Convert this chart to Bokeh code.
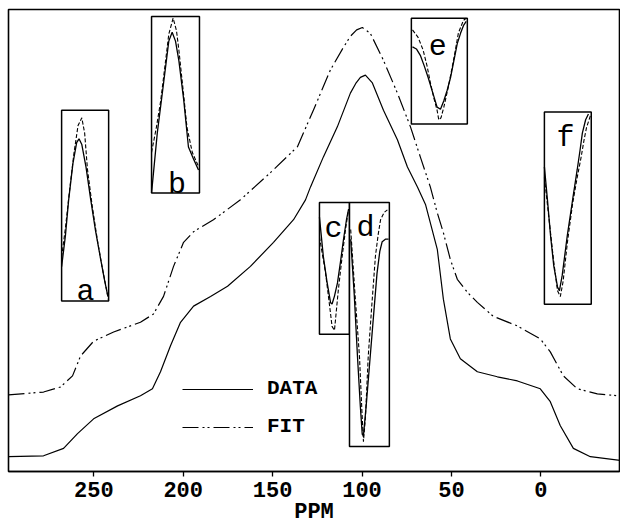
import numpy as np
from bokeh.plotting import figure
from bokeh.models import Legend, LegendItem, Range1d, FixedTicker
from bokeh.embed import file_html
from bokeh.resources import INLINE
from bokeh.core.properties import value

# ---- main spectrum (PPM, intensity in arbitrary units) ----
data_ppm = [297.7, 278.1, 266.9, 259.1, 250.1, 236.7, 223.9, 217.2, 212.7, 207.1, 201.5,
            194.2, 184.7, 175.2, 162.4, 149.5, 138.3, 131.6, 128.8, 121.6, 113.8, 106.5,
            103.5, 100.9, 98.1, 94.2, 88.0, 80.2, 74.6, 69.0, 64.5, 57.9, 54.5, 50.6,
            45.0, 35.5, 24.3, 13.1, 0.3, -5.3, -10.9, -18.2, -27.7, -44.5]
data_int = [3.2, 3.4, 5.0, 8.2, 11.4, 14.2, 16.4, 17.9, 21.6, 27.2, 32.3,
            35.8, 37.9, 40.1, 44.4, 49.6, 54.5, 58.8, 61.6, 68.1, 74.6, 81.9,
            84.0, 85.3, 85.8, 84.1, 78.2, 71.8, 65.9, 61.6, 57.8, 48.1, 37.3, 28.7,
            24.4, 21.6, 20.5, 19.6, 17.9, 15.1, 9.9, 5.0, 3.2, 2.4]

fit_ppm = [297.7, 278.1, 268.6, 261.9, 257.4, 250.1, 238.9, 223.9, 216.6, 211.0, 205.4,
           199.8, 194.2, 183.1, 168.0, 151.2, 136.1, 127.2, 117.7, 110.4, 106.5, 103.0,
           99.8, 95.3, 88.0, 80.2, 72.9, 67.4, 61.8, 57.9, 54.5, 50.6, 46.7, 41.1,
           35.5, 26.6, 13.1, 0.3, -5.3, -12.6, -20.4, -31.6, -42.8]
fit_int = [16.6, 17.2, 18.3, 20.7, 25.0, 28.2, 30.2, 32.3, 34.1, 37.9, 44.4,
           49.6, 51.9, 54.5, 58.8, 64.7, 70.3, 78.2, 86.9, 91.8, 94.2, 95.6,
           96.1, 94.8, 89.0, 81.9, 74.6, 68.1, 61.6, 56.0, 51.7, 45.9, 41.6, 38.8,
           36.6, 33.6, 31.5, 28.7, 25.9, 20.7, 17.9, 16.8, 16.4]

x_ticks = [0, 50, 100, 150, 200, 250]

# ---- insets: box in main coords (ppm_left, ppm_right, int_bottom, int_top) ----
inset_names = ["a", "b", "c", "d", "e", "f"]
inset_boxes = {
    "a": (268.0, 241.7, 36.9, 78.2),
    "b": (217.7, 190.9, 60.3, 98.5),
    "c": (123.8, 107.0, 29.7, 58.2),
    "d": (107.0, 84.7, 5.4, 58.2),
    "e": (72.4, 41.1, 75.2, 98.1),
    "f": (-2.0, -28.2, 36.2, 77.8),
}
# label anchor inside each box (fraction of width, fraction of height, baseline)
inset_label_pos = {
    "a": (0.51, 0.047), "b": (0.53, 0.045), "c": (0.47, 0.80),
    "d": (0.40, 0.894), "e": (0.47, 0.745), "f": (0.45, 0.865),
}

# inset curves, in fractions of each box (u across, v up)
a_data_u = [0, 0.08, 0.15, 0.24, 0.32, 0.37, 0.43, 0.52, 0.62, 0.72, 0.83, 0.92, 0.98]
a_data_v = [0.18, 0.34, 0.53, 0.72, 0.83, 0.85, 0.82, 0.70, 0.53, 0.37, 0.22, 0.10, 0.03]
a_fit_u = [0, 0.08, 0.16, 0.26, 0.35, 0.43, 0.49, 0.55, 0.65, 0.76, 0.86, 0.94, 1.0]
a_fit_v = [0.23, 0.38, 0.56, 0.77, 0.92, 0.96, 0.88, 0.69, 0.50, 0.32, 0.18, 0.08, 0.0]

b_data_u = [0, 0.12, 0.25, 0.36, 0.43, 0.50, 0.57, 0.67, 0.77, 0.88, 0.98]
b_data_v = [0.0, 0.34, 0.62, 0.86, 0.91, 0.86, 0.75, 0.53, 0.26, 0.19, 0.13]
b_fit_u = [0, 0.10, 0.19, 0.28, 0.36, 0.45, 0.52, 0.57, 0.66, 0.74, 0.85, 0.98]
b_fit_v = [0.23, 0.37, 0.52, 0.72, 0.90, 0.99, 0.92, 0.81, 0.58, 0.37, 0.23, 0.15]

c_data_u = [0.0, 0.13, 0.25, 0.37, 0.42, 0.50, 0.60, 0.70, 0.80, 0.90, 0.97]
c_data_v = [0.89, 0.59, 0.40, 0.24, 0.23, 0.29, 0.39, 0.55, 0.72, 0.87, 0.95]
c_fit_u = [0.0, 0.20, 0.32, 0.42, 0.50, 0.63, 0.75, 0.87, 0.97]
c_fit_v = [0.74, 0.47, 0.25, 0.06, 0.03, 0.34, 0.58, 0.80, 0.95]

d_data_u = [0.03, 0.12, 0.20, 0.27, 0.32, 0.35, 0.42, 0.52, 0.61, 0.69, 0.76, 0.82, 0.90, 0.98]
d_data_v = [0.85, 0.62, 0.37, 0.17, 0.05, 0.045, 0.17, 0.37, 0.55, 0.71, 0.80, 0.84, 0.85, 0.85]
d_fit_u = [0.03, 0.14, 0.25, 0.31, 0.35, 0.40, 0.47, 0.56, 0.65, 0.72, 0.78, 0.87, 0.95]
d_fit_v = [0.89, 0.62, 0.37, 0.15, 0.02, 0.12, 0.37, 0.58, 0.78, 0.87, 0.93, 0.96, 0.97]

e_data_u = [0.02, 0.09, 0.16, 0.23, 0.30, 0.38, 0.46, 0.52, 0.58, 0.64, 0.70, 0.76, 0.82, 0.88, 0.93, 0.98]
e_data_v = [0.73, 0.71, 0.65, 0.55, 0.44, 0.30, 0.16, 0.14, 0.22, 0.32, 0.44, 0.60, 0.76, 0.86, 0.93, 0.97]
e_fit_u = [0.02, 0.12, 0.21, 0.28, 0.34, 0.40, 0.46, 0.49, 0.53, 0.58, 0.66, 0.73, 0.79, 0.84, 0.93, 0.98]
e_fit_v = [0.89, 0.82, 0.70, 0.55, 0.39, 0.25, 0.13, 0.04, 0.06, 0.16, 0.35, 0.54, 0.71, 0.86, 0.98, 1.0]

f_data_u = [0, 0.07, 0.13, 0.20, 0.28, 0.32, 0.38, 0.49, 0.60, 0.70, 0.76, 0.81, 0.88, 0.94]
f_data_v = [0.715, 0.53, 0.36, 0.20, 0.09, 0.07, 0.15, 0.36, 0.54, 0.70, 0.80, 0.89, 0.96, 0.99]
f_fit_u = [0, 0.10, 0.20, 0.28, 0.34, 0.40, 0.49, 0.60, 0.70, 0.78, 0.85, 0.90, 0.98]
f_fit_v = [0.66, 0.44, 0.22, 0.07, 0.04, 0.12, 0.32, 0.52, 0.66, 0.76, 0.86, 0.92, 0.98]

inset_curves = {
    "a": (a_data_u, a_data_v, a_fit_u, a_fit_v),
    "b": (b_data_u, b_data_v, b_fit_u, b_fit_v),
    "c": (c_data_u, c_data_v, c_fit_u, c_fit_v),
    "d": (d_data_u, d_data_v, d_fit_u, d_fit_v),
    "e": (e_data_u, e_data_v, e_fit_u, e_fit_v),
    "f": (f_data_u, f_data_v, f_fit_u, f_fit_v),
}

FONT = "Liberation Mono"
FIT_DASH = "16 4 2 3 2 4"

p = figure(width=620, height=527, output_backend="svg", toolbar_location=None,
           x_range=Range1d(297.7, -44.0), y_range=Range1d(0, 100),
           min_border_left=8, min_border_right=1, min_border_top=9, min_border_bottom=54)
p.background_fill_color = "white"
p.border_fill_color = "white"
p.outline_line_color = "black"
p.outline_line_width = 1.6
p.xgrid.visible = False
p.ygrid.visible = False
p.yaxis.visible = False

ax = p.xaxis[0]
ax.ticker = FixedTicker(ticks=x_ticks)
ax.minor_tick_line_color = None
ax.major_tick_in = 0
ax.major_tick_out = 5
ax.major_tick_line_width = 1.3
ax.axis_line_width = 1.6
ax.major_label_text_font = FONT
ax.major_label_text_font_style = "bold"
ax.major_label_text_font_size = "22px"
ax.major_label_text_color = "black"
ax.major_label_standoff = 5
ax.axis_label = "PPM"
ax.axis_label_text_font = FONT
ax.axis_label_text_font_style = "bold"
ax.axis_label_text_font_size = "22px"
ax.axis_label_text_color = "black"
ax.axis_label_standoff = 0

r_data = p.line(data_ppm, data_int, line_color="black", line_width=1.2)
r_fit = p.line(fit_ppm, fit_int, line_color="black", line_width=1.2, line_dash=FIT_DASH)

for name in inset_names:
    xl, xr, yb, yt = inset_boxes[name]
    p.quad(left=[xl], right=[xr], bottom=[yb], top=[yt], fill_color="white",
           line_color="black", line_width=1.5)
    du, dv, fu, fv = inset_curves[name]
    dx = xl + np.array(du) * (xr - xl)
    dy = yb + np.array(dv) * (yt - yb)
    fx = xl + np.array(fu) * (xr - xl)
    fy = yb + np.array(fv) * (yt - yb)
    p.line(dx, dy, line_color="black", line_width=1.3)
    p.line(fx, fy, line_color="black", line_width=1.1, line_dash="4 2")
    lu, lv = inset_label_pos[name]
    p.text(x=[xl + lu * (xr - xl)], y=[yb + lv * (yt - yb)], text=[name],
           text_font=value(FONT), text_font_size="30px", text_align="center",
           text_baseline="alphabetic", text_color="black")

legend = Legend(items=[LegendItem(label="DATA", renderers=[r_data]),
                       LegendItem(label="FIT", renderers=[r_fit])],
                location=(174, 33), orientation="vertical",
                glyph_width=71, glyph_height=20, label_height=20, spacing=15,
                padding=0, margin=0, label_standoff=14,
                border_line_alpha=0, background_fill_alpha=0,
                label_text_font=FONT, label_text_font_style="bold",
                label_text_font_size="21px", label_text_color="black")
p.add_layout(legend)

open("out.html", "w").write(file_html(p, INLINE))
